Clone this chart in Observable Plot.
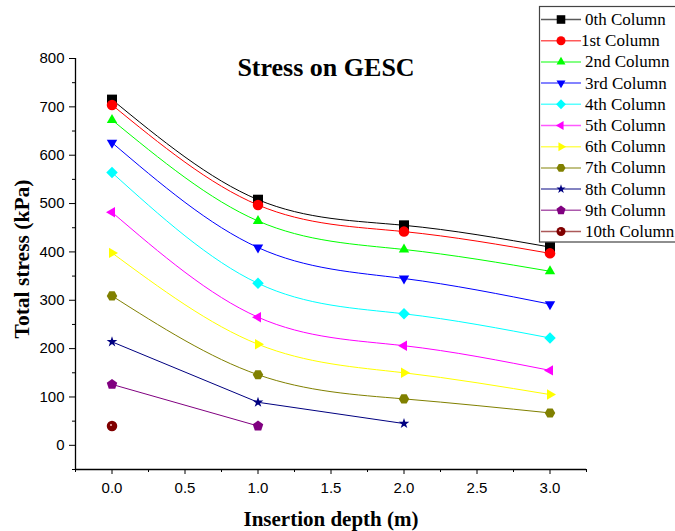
<!DOCTYPE html>
<html>
<head>
<meta charset="utf-8">
<script src="https://cdn.jsdelivr.net/npm/d3@7"></script>
<script src="https://cdn.jsdelivr.net/npm/@observablehq/plot@0.6"></script>
<style>
  html, body { margin: 0; padding: 0; background: #fff; }
  #chart svg { display: block; }
</style>
</head>
<body>
<div id="chart"></div>
<script>
// ---- Data ----
const depth = [0, 1, 2, 3];
const columnNames = ["0th Column", "1st Column", "2nd Column", "3rd Column", "4th Column",
  "5th Column", "6th Column", "7th Column", "8th Column", "9th Column", "10th Column"];
const col0 = [715, 508, 455, 410];
const col1 = [704, 497, 442, 397];
const col2 = [673, 464, 405, 360];
const col3 = [626, 409, 345, 292];
const col4 = [564, 335, 272, 222];
const col5 = [482, 265, 206, 155];
const col6 = [398, 209, 150, 105];
const col7 = [309, 146, 96, 67];
const col8 = [214, 89, 45];
const col9 = [126, 40];
const col10 = [40];
const seriesColors = ["#000000", "#ff0000", "#00ff00", "#0000ff", "#00ffff", "#ff00ff",
  "#ffff00", "#808000", "#000080", "#800080", "#800000"];
const xMajorTicks = [0, 0.5, 1, 1.5, 2, 2.5, 3];
const xMinorTicks = [-0.25, 0.25, 0.75, 1.25, 1.75, 2.25, 2.75, 3.25];
const yMajorTicks = [0, 100, 200, 300, 400, 500, 600, 700, 800];
const yMinorTicks = [-50, 50, 150, 250, 350, 450, 550, 650, 750];
const titleText = "Stress on GESC";
const xLabel = "Insertion depth (m)";
const yLabel = "Total stress (kPa)";

const allCols = [col0, col1, col2, col3, col4, col5, col6, col7, col8, col9, col10];
const rows = allCols.map((vals, s) => vals.map((v, i) => ({series: columnNames[s], x: depth[i], y: v})));

// ---- Custom marker symbols ----
function poly(n, rot, k) {
  return {
    draw(ctx, size) {
      const R = Math.sqrt(size / Math.PI) * k;
      for (let i = 0; i < n; i++) {
        const a = rot + i * 2 * Math.PI / n;
        const px = R * Math.cos(a), py = R * Math.sin(a);
        if (i) ctx.lineTo(px, py); else ctx.moveTo(px, py);
      }
      ctx.closePath();
    }
  };
}
const circleSym = {draw(ctx, size) { const R = Math.sqrt(size / Math.PI) * 1.05; ctx.moveTo(R, 0); ctx.arc(0, 0, R, 0, 2 * Math.PI); }};
const starSym = {draw(ctx, size) { d3.symbolStar.draw(ctx, size * 0.45); }};
const symbols = [
  poly(4, Math.PI / 4, 1.41),      // square
  circleSym,                         // circle
  poly(3, -Math.PI / 2, 1.2),       // triangle up
  poly(3, Math.PI / 2, 1.2),        // triangle down
  poly(4, 0, 1.15),                 // diamond
  poly(3, Math.PI, 1.2),            // triangle left
  poly(3, 0, 1.2),                  // triangle right
  poly(6, 0, 1.05),                 // hexagon
  starSym,                          // star
  poly(5, -Math.PI / 2, 1.1),       // pentagon
  circleSym                         // sphere
];

// ---- Marks ----
const marks = [];
rows.forEach((data, s) => {
  if (data.length > 1) {
    marks.push(Plot.line(data, {x: "x", y: "y", stroke: seriesColors[s], strokeWidth: 1,
      curve: data.length >= 4 ? "natural" : "linear"}));
  }
});
rows.forEach((data, s) => {
  marks.push(Plot.dot(data, {x: "x", y: "y", r: 5, symbol: symbols[s], fill: seriesColors[s], stroke: "none"}));
});
// sphere highlight
marks.push(Plot.dot(rows[10], {x: "x", y: "y", r: 1, fill: "#f4b8b8", stroke: "none", dx: -1, dy: -1}));

marks.push(
  Plot.ruleX([-0.25], {stroke: "#000", strokeWidth: 1.3}),
  Plot.ruleY([-50], {stroke: "#000", strokeWidth: 1.3}),
  Plot.axisX({ticks: xMajorTicks, tickSize: 5, tickPadding: 8, tickFormat: d3.format(".1f"), label: null, fontSize: 15}),
  Plot.axisX({ticks: xMinorTicks, tickSize: 3, tickFormat: () => "", label: null}),
  Plot.axisY({ticks: yMajorTicks, tickSize: 6, tickPadding: 5, tickFormat: d3.format("d"), label: null, fontSize: 15}),
  Plot.axisY({ticks: yMinorTicks, tickSize: 3, tickFormat: () => "", label: null}),
  Plot.text([titleText], {frameAnchor: "top", lineAnchor: "top", dy: -1, dx: -5, textAnchor: "middle", fontFamily: "Liberation Serif", fontWeight: "bold", fontSize: 26, fill: "#000"}),
  Plot.text([xLabel], {frameAnchor: "bottom", lineAnchor: "middle", textAnchor: "middle", dy: 50, fontFamily: "Liberation Serif", fontWeight: "bold", fontSize: 21, fill: "#000"}),
  Plot.text([yLabel], {frameAnchor: "left", lineAnchor: "middle", textAnchor: "middle", dx: -53, dy: -5, rotate: -90, fontFamily: "Liberation Serif", fontWeight: "bold", fontSize: 21.5, fill: "#000"})
);

const chart = Plot.plot({
  width: 675,
  height: 531,
  marginLeft: 75,
  marginRight: 89,
  marginTop: 58,
  marginBottom: 62,
  style: {fontFamily: "Liberation Sans", fontSize: "15px", color: "#000", background: "#fff"},
  x: {domain: [-0.25, 3.25], axis: null},
  y: {domain: [-50, 800], axis: null},
  marks
});

// ---- Legend (drawn on top, upper right) ----
const svg = d3.select(chart);
const lg = svg.append("g").attr("class", "legend").attr("text-anchor", "start");
lg.append("rect").attr("x", 539.5).attr("y", 6.5).attr("width", 150).attr("height", 235.5)
  .attr("fill", "#fff").attr("stroke", "#444").attr("stroke-width", 1.2);
columnNames.forEach((name, i) => {
  const cy = 19.5 + i * 21.2;
  lg.append("line").attr("x1", 541).attr("x2", 581).attr("y1", cy).attr("y2", cy)
    .attr("stroke", seriesColors[i]).attr("stroke-opacity", 0.65).attr("stroke-width", 1.5);
  lg.append("path").attr("d", d3.symbol(symbols[i], Math.PI * 4.3 * 4.3)())
    .attr("transform", `translate(561,${cy})`).attr("fill", seriesColors[i]);
  if (i === 10) {
    lg.append("circle").attr("cx", 560).attr("cy", cy - 1).attr("r", 1).attr("fill", "#f4b8b8");
  }
  lg.append("text").attr("x", i === 1 ? 581 : 585).attr("y", cy + 5.5).attr("text-anchor", "start")
    .attr("font-family", "Liberation Serif").attr("font-size", 17).attr("fill", "#000").text(name);
});

document.getElementById("chart").appendChild(chart);
</script>
</body>
</html>
